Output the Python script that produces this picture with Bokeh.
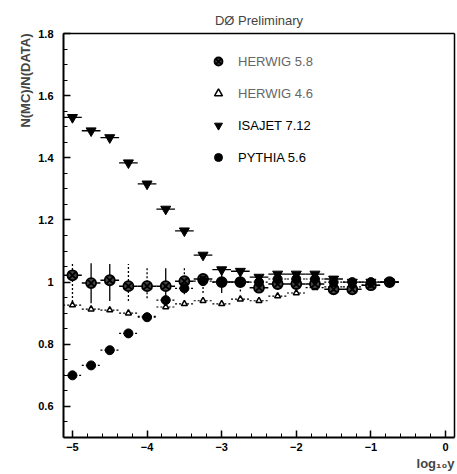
from bokeh.plotting import figure
from bokeh.models import Range1d, FixedTicker, Legend, LegendItem, Title, LinearAxis
from bokeh.embed import file_html
from bokeh.resources import INLINE
import numpy as np

# ---- data ----
log10y = [-5.0, -4.75, -4.5, -4.25, -4.0, -3.75, -3.5, -3.25, -3.0,
          -2.75, -2.5, -2.25, -2.0, -1.75, -1.5, -1.25, -1.0, -0.75]
bin_half = 0.125

herwig58 = [1.022, 0.997, 1.006, 0.987, 0.987, 0.987, 1.003, 1.01, 1.0,
            1.0, 0.982, 0.994, 0.994, 0.994, 0.977, 0.977, 0.99, 1.0]
herwig58_lo = [0.923, 0.932, 0.939, 0.939, 0.948, 0.939, 0.961, 0.965, 0.965,
               0.97, 0.965, 0.975, 0.975, 0.975, 0.96, 0.96, 0.98, 0.99]
herwig58_hi = [1.061, 1.061, 1.058, 1.058, 1.045, 1.045, 1.045, 1.019, 1.042,
               1.03, 1.015, 1.02, 1.02, 1.02, 1.0, 1.0, 1.005, 1.01]
herwig46 = [0.926, 0.913, 0.91, 0.90, 0.89, 0.92, 0.93, 0.94, 0.93,
            0.945, 0.94, 0.955, 0.965, 0.982, 0.985, 0.985, 0.99, 1.0]
isajet = [1.53, 1.487, 1.465, 1.384, 1.316, 1.235, 1.165, 1.087, 1.04,
          1.035, 1.016, 1.026, 1.026, 1.026, 1.01, 1.0, 1.0, 1.0]
pythia = [0.70, 0.732, 0.781, 0.835, 0.887, 0.942, 0.98, 1.003, 1.0,
          1.0, 1.0, 1.01, 1.01, 1.01, 1.0, 1.0, 1.0, 1.0]

x_ticks = [-5, -4, -3, -2, -1, 0]
x_tick_labels = {-5: "\u22125", -4: "\u22124", -3: "\u22123", -2: "\u22122", -1: "\u22121", 0: "0"}
y_ticks = [0.6, 0.8, 1.0, 1.2, 1.4, 1.6, 1.8]
y_tick_labels = {0.6: "0.6", 0.8: "0.8", 1.0: "1", 1.2: "1.2", 1.4: "1.4", 1.6: "1.6", 1.8: "1.8"}

# error bar line style per HERWIG 5.8 point (style, not data)
bar_solid = [False, True, True, False, False, True, False, False, True,
             False, False, False, False, False, False, False, False, False]

FONT = "Liberation Sans"
X0, X1, Y0, Y1 = -5.12, 0.12, 0.5, 1.8

p = figure(width=456, height=472, x_range=Range1d(X0, X1), y_range=Range1d(Y0, Y1),
           output_backend="svg", toolbar_location=None,
           min_border_left=63, min_border_right=2, min_border_top=33, min_border_bottom=35)
p.grid.visible = False
p.outline_line_color = None
p.background_fill_color = "white"
p.border_fill_color = "white"

xa = p.xaxis[0]
ya = p.yaxis[0]

for ax in (xa, ya):
    ax.axis_line_width = 2
    ax.major_tick_in = 7
    ax.major_tick_out = 0
    ax.minor_tick_in = 4
    ax.minor_tick_out = 0
    ax.major_tick_line_width = 1.5
    ax.major_label_text_font = FONT
    ax.major_label_text_font_style = "bold"
    ax.major_label_text_font_size = "11px"
    ax.major_label_text_color = "black"

xa.ticker = FixedTicker(ticks=x_ticks, minor_ticks=list(np.round(np.arange(-5.0, 0.01, 0.2), 2)))
ya.ticker = FixedTicker(ticks=y_ticks, minor_ticks=list(np.round(np.arange(0.5, 1.81, 0.05), 2)))
xa.major_label_overrides = x_tick_labels
ya.major_label_overrides = y_tick_labels
xa.major_label_standoff = 5
ya.major_label_standoff = 10

# frame box on top and right (plain axis lines)
for place in ("above", "right"):
    bax = LinearAxis(ticker=FixedTicker(ticks=[]), axis_line_color="black", axis_line_width=1.5,
                     major_tick_line_color=None, minor_tick_line_color=None,
                     major_label_text_font_size="0px", major_label_standoff=0)
    p.add_layout(bax, place)

xl = [v - bin_half for v in log10y]
xr = [v + bin_half for v in log10y]

# HERWIG 5.8 error bars
xs_s = [v for v, s in zip(log10y, bar_solid) if s]
xs_d = [v for v, s in zip(log10y, bar_solid) if not s]
p.segment(xs_s, [l for l, s in zip(herwig58_lo, bar_solid) if s], xs_s,
          [h for h, s in zip(herwig58_hi, bar_solid) if s], line_color="black", line_width=1.3)
p.segment(xs_d, [l for l, s in zip(herwig58_lo, bar_solid) if not s], xs_d,
          [h for h, s in zip(herwig58_hi, bar_solid) if not s], line_color="black",
          line_width=1.3, line_dash="2 2")
p.segment(xl, herwig58, xr, herwig58, line_color="black", line_width=1.5)

# horizontal bars
p.segment(xl, herwig46, xr, herwig46, line_color="black", line_width=1.2, line_dash="2 2")
p.segment(xl, pythia, xr, pythia, line_color="black", line_width=1.2, line_dash="2 2")
p.segment(xl, isajet, xr, isajet, line_color="black", line_width=1.3)

r46 = p.scatter(log10y, herwig46, marker="triangle", size=6, fill_color="white",
                line_color="black", line_width=1.5)
r58 = p.scatter(log10y, herwig58, marker="circle_x", size=10, fill_color="#444444",
                line_color="black", line_width=1.8)
rpy = p.scatter(log10y, pythia, marker="circle", size=9, fill_color="black", line_color="black")
risa = p.scatter(log10y, isajet, marker="inverted_triangle", size=10, fill_color="black",
                 line_color="black")

# legends
def make_legend(items, y, color):
    lg = Legend(items=items, location=(145, y), orientation="vertical",
                border_line_color=None, background_fill_alpha=0,
                padding=0, margin=0, spacing=12, label_standoff=10,
                glyph_width=20, glyph_height=20, label_height=20,
                label_text_font=FONT, label_text_font_size="13px",
                label_text_color=color)
    p.add_layout(lg, "center")

make_legend([LegendItem(label="HERWIG 5.8", renderers=[r58]),
             LegendItem(label="HERWIG 4.6", renderers=[r46])], 334, "#666666")
make_legend([LegendItem(label="ISAJET 7.12", renderers=[risa]),
             LegendItem(label="PYTHIA 5.6", renderers=[rpy])], 270, "black")

# texts
p.title = Title(text="D\u00d8 Preliminary", align="center", text_font=FONT,
                text_font_size="13px", text_font_style="normal", vertical_align="middle")
p.add_layout(Title(text="N(MC)/N(DATA)", align="right", text_font=FONT,
                   text_font_size="13px", text_font_style="bold", standoff=6), "left")
p.add_layout(Title(text="log\u2081\u2080y", align="right", text_font=FONT,
                   text_font_size="13px", text_font_style="bold", standoff=1), "below")

open("out.html", "w").write(file_html(p, INLINE))
